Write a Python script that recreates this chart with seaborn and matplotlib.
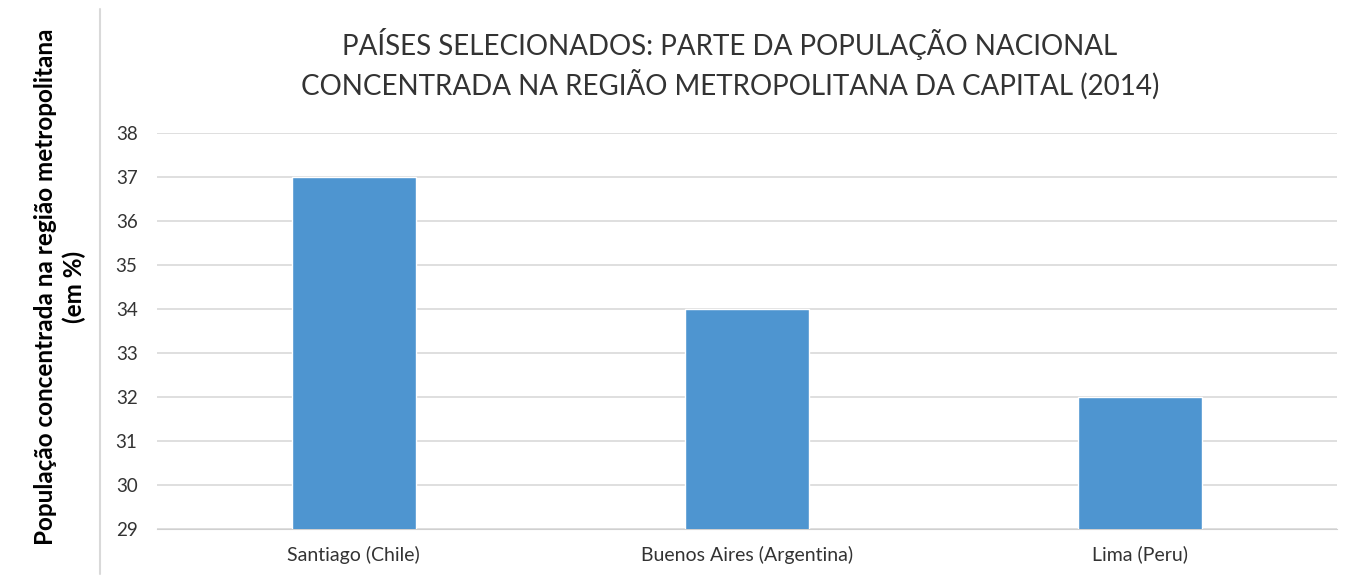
import matplotlib
matplotlib.use('Agg')

import pandas as pd
import matplotlib.pyplot as plt
import seaborn as sns
from matplotlib.lines import Line2D

# data
cidades = ['Santiago (Chile)', 'Buenos Aires (Argentina)', 'Lima (Peru)']
percentuais = [37, 34, 32]
y_ticks = list(range(29, 39))

df = pd.DataFrame({'cidade': cidades, 'pct': percentuais})

sns.set_style('white')
plt.rcParams['font.family'] = ['Lato', 'DejaVu Sans']

fig = plt.figure(figsize=(13.52, 5.8), dpi=100)
ax = fig.add_axes([0.1161, 0.0879, 0.8728, 0.6828])

sns.barplot(data=df, x='cidade', y='pct', color='#4E95D0', width=0.315,
            saturation=1, ax=ax, zorder=3)

ax.set_ylim(29, 38)
ax.set_xlim(-0.5, 2.5)
ax.set_yticks(y_ticks)
ax.yaxis.grid(True, color='#D9D9D9', linewidth=1.2, zorder=0)
ax.set_axisbelow(True)
for s in ['top', 'right', 'left']:
    ax.spines[s].set_visible(False)
ax.spines['bottom'].set_color('#D0D0D0')
ax.tick_params(axis='y', length=0, labelsize=13.5, colors='#333333', pad=14)
ax.tick_params(axis='x', length=0, labelsize=14, colors='#333333', pad=12)
ax.set_xlabel('')
ax.set_ylabel('')

fig.text(0.54, 0.89,
         'PAÍSES SELECIONADOS: PARTE DA POPULAÇÃO NACIONAL\n'
         'CONCENTRADA NA REGIÃO METROPOLITANA DA CAPITAL (2014)',
         ha='center', va='center', fontsize=20, color='#333333',
         linespacing=1.4)

fig.text(0.0444, 0.505,
         'População concentrada na região metropolitana\n(em %)',
         rotation=90, ha='center', va='center', fontsize=17.5,
         fontweight='bold', color='black', linespacing=1.25)

# thin separator line between the label and the chart
fig.add_artist(Line2D([0.074, 0.074], [0.01, 0.985], transform=fig.transFigure,
                      color='#D9D9D9', linewidth=1.5))

fig.savefig('out.png', dpi=100)
plt.close(fig)
